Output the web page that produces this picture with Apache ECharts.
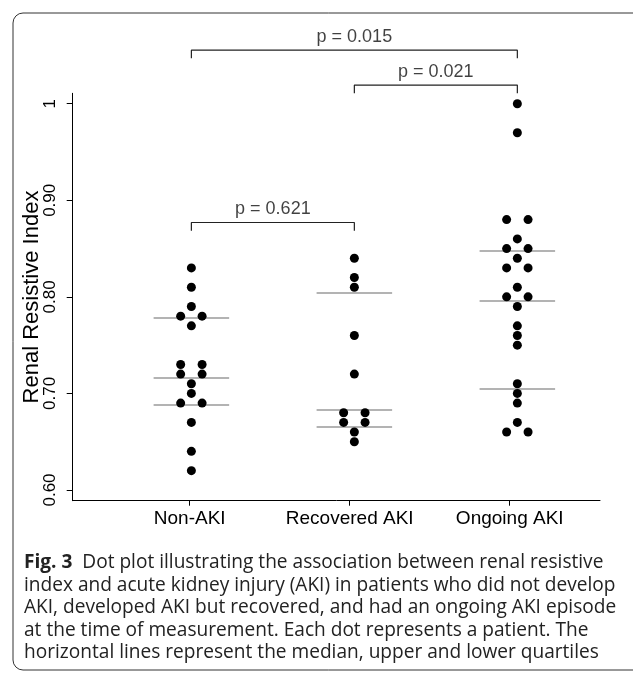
<!DOCTYPE html>
<html>
<head>
<meta charset="utf-8">
<script src="https://cdn.jsdelivr.net/npm/echarts@6/dist/echarts.min.js"></script>
<style>
html,body{margin:0;padding:0;background:#fff;}
#chart{width:633px;height:674px;}
</style>
</head>
<body>
<div id="chart"></div>
<script>
// ---------------- data ----------------
const categories = ['Non-AKI', 'Recovered AKI', 'Ongoing AKI'];
const nonAKI = [0.83, 0.81, 0.79, 0.78, 0.78, 0.77, 0.73, 0.73, 0.72, 0.72, 0.71, 0.70, 0.69, 0.69, 0.67, 0.64, 0.62];
const recoveredAKI = [0.84, 0.82, 0.81, 0.76, 0.72, 0.68, 0.68, 0.67, 0.67, 0.66, 0.65];
const ongoingAKI = [1.00, 0.97, 0.88, 0.88, 0.86, 0.85, 0.85, 0.84, 0.83, 0.83, 0.81, 0.80, 0.80, 0.79, 0.77, 0.76, 0.75, 0.71, 0.70, 0.69, 0.67, 0.66, 0.66];
const lowerQuartile = [0.688, 0.665, 0.705];
const medianValues = [0.716, 0.683, 0.796];
const upperQuartile = [0.778, 0.804, 0.848];
const pLabels = ['p = 0.015', 'p = 0.021', 'p = 0.621'];
const pPairs = [[0, 2], [1, 2], [0, 1]];
const yTickValues = [0.6, 0.7, 0.8, 0.9, 1];
const yTickLabels = ['0.60', '0.70', '0.80', '0.90', '1'];
const yAxisTitle = 'Renal Resistive Index';
const captionBold = 'Fig. 3';
const captionLines = [
  'Dot plot illustrating the association between renal resistive',
  'index and acute kidney injury (AKI) in patients who did not develop',
  'AKI, developed AKI but recovered, and had an ongoing AKI episode',
  'at the time of measurement. Each dot represents a patient. The',
  'horizontal lines represent the median, upper and lower quartiles'
];

// ---------------- layout ----------------
const groups = [nonAKI, recoveredAKI, ongoingAKI];
const groupShift = [0.0106, 0.029, 0.0475];   // dot columns sit slightly right of the ticks
const pairOffset = 0.067;
const qHalf = 0.236;
const bracketBar = [1.0555, 1.0193, 0.877];
const bracketDrop = 0.0085;
const FONT = '"Liberation Sans", Arial, Helvetica, sans-serif';
const CAP_FONT = '"Open Sans", sans-serif';

function centerOf(i) { return i + 1 + groupShift[i]; }

const dotSeries = groups.map((vals, gi) => {
  const counts = {};
  vals.forEach(v => { const k = v.toFixed(3); counts[k] = (counts[k] || 0) + 1; });
  const seen = {};
  const pts = vals.map(v => {
    const k = v.toFixed(3);
    const n = counts[k];
    const idx = seen[k] = (seen[k] === undefined ? 0 : seen[k] + 1);
    const off = n === 1 ? 0 : (idx - (n - 1) / 2) * 2 * pairOffset;
    return [centerOf(gi) + off, v];
  });
  return {
    type: 'scatter', name: categories[gi], data: pts, symbolSize: 9,
    itemStyle: { color: '#000', opacity: 1 }, silent: true, z: 5
  };
});

const qLines = [];
[lowerQuartile, medianValues, upperQuartile].forEach(arr => {
  arr.forEach((q, gi) => {
    qLines.push([{ coord: [centerOf(gi) - qHalf, q] }, { coord: [centerOf(gi) + qHalf, q] }]);
  });
});
dotSeries[0].markLine = {
  silent: true, symbol: ['none', 'none'], label: { show: false },
  lineStyle: { color: '#9a9a9a', width: 1.5, type: 'solid', opacity: 1 },
  data: qLines, animation: false
};

const bracketSeries = pPairs.map((pr, k) => {
  const a = centerOf(pr[0]), b = centerOf(pr[1]), y = bracketBar[k];
  return {
    type: 'line', data: [[a, y - bracketDrop], [a, y], [b, y], [b, y - bracketDrop]],
    symbol: 'none', clip: false, silent: true,
    lineStyle: { color: '#222', width: 1.2 }, z: 4
  };
});
const pLabelSeries = {
  type: 'scatter', clip: false, silent: true, symbolSize: 0,
  data: pPairs.map((pr, k) => ({
    value: [(centerOf(pr[0]) + centerOf(pr[1])) / 2, bracketBar[k]],
    label: { show: true, formatter: pLabels[k] }
  })),
  label: { show: true, position: 'top', distance: 4, color: '#111', fontSize: 18, fontFamily: FONT },
  itemStyle: { color: 'transparent' }
};

const captionGraphics = captionLines.map((t, i) => ({
  type: 'text', left: 24, top: 553 + i * 22.6,
  style: i === 0 ? {
    text: '{b|' + captionBold + '}  ' + t,
    fill: '#222', font: '19.1px ' + CAP_FONT,
    rich: { b: { fontWeight: 'bold', fontSize: 19.1, fontFamily: CAP_FONT, fill: '#222' } }
  } : { text: t, fill: '#222', font: '19.1px ' + CAP_FONT }
}));

const chart = echarts.init(document.getElementById('chart'), null, { renderer: 'canvas' });
chart.setOption({
  animation: false,
  backgroundColor: '#fff',
  grid: { left: 72.7, top: 93.3, width: 527.3, height: 407.4, containLabel: false },
  xAxis: {
    type: 'value', min: 0.269, max: 3.564,
    axisLine: { show: true, onZero: false, lineStyle: { color: '#000', width: 1 } },
    axisTick: { show: true, length: 5, customValues: [1, 2, 3], lineStyle: { color: '#000' } },
    axisLabel: {
      show: true, customValues: [1, 2, 3], margin: 9,
      formatter: v => categories[Math.round(v) - 1] || '',
      color: '#000', fontSize: 19, fontFamily: FONT
    },
    splitLine: { show: false }
  },
  yAxis: {
    type: 'value', min: 0.5889, max: 1.0108,
    name: yAxisTitle, nameLocation: 'middle', nameGap: 30, nameRotate: 90,
    nameMoveOverlap: false,
    nameTextStyle: { color: '#000', fontSize: 22, fontFamily: FONT },
    axisLine: { show: true, onZero: false, lineStyle: { color: '#000', width: 1 } },
    axisTick: { show: true, length: 6, customValues: yTickValues, lineStyle: { color: '#000' } },
    axisLabel: {
      show: true, customValues: yTickValues, rotate: 90, margin: 14,
      formatter: v => { const i = yTickValues.findIndex(t => Math.abs(t - v) < 1e-6); return i >= 0 ? yTickLabels[i] : ''; },
      color: '#000', fontSize: 17, fontFamily: FONT
    },
    splitLine: { show: false }
  },
  graphic: [
    { type: 'rect', shape: { x: 13, y: 13, width: 700, height: 657, r: 10 },
      style: { fill: 'none', stroke: '#333', lineWidth: 1 }, silent: true, z: 0 }
  ].concat(captionGraphics),
  series: dotSeries.concat(bracketSeries, [pLabelSeries])
});
</script>
</body>
</html>
